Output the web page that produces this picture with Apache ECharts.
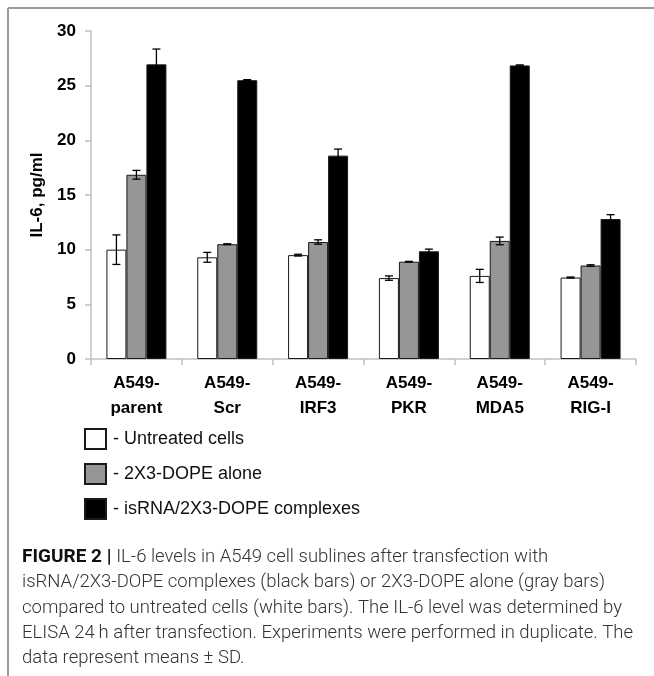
<!DOCTYPE html>
<html>
<head>
<meta charset="utf-8">
<script src="https://cdn.jsdelivr.net/npm/echarts@6/dist/echarts.min.js"></script>
<style>html,body{margin:0;padding:0;background:#fff;}#c{width:654px;height:676px;}</style>
</head>
<body>
<div id="c"></div>
<script>
var categories = ['A549-\nparent', 'A549-\nScr', 'A549-\nIRF3', 'A549-\nPKR', 'A549-\nMDA5', 'A549-\nRIG-I'];
var seriesNames = ['Untreated cells', '2X3-DOPE alone', 'isRNA/2X3-DOPE complexes'];
var untreated = [10.0, 9.3, 9.5, 7.4, 7.6, 7.45];
var dopeAlone = [16.85, 10.5, 10.7, 8.9, 10.8, 8.55];
var complexes = [26.95, 25.5, 18.6, 9.85, 26.85, 12.8];
var untreatedSD = [1.35, 0.45, 0.08, 0.2, 0.6, 0.05];
var dopeAloneSD = [0.4, 0.04, 0.2, 0.03, 0.35, 0.07];
var complexesSD = [1.4, 0.05, 0.6, 0.2, 0.05, 0.4];
var yTicks = [0, 5, 10, 15, 20, 25, 30];
var captionLines = [
  'isRNA/2X3-DOPE complexes (black bars) or 2X3-DOPE alone (gray bars)',
  'compared to untreated cells (white bars). The IL-6 level was determined by',
  'ELISA 24\u2009h after transfection. Experiments were performed in duplicate. The',
  'data represent means \u00b1 SD.'
];
var captionFirst = ['FIGURE 2 | ', 'IL-6 levels in A549 cell sublines after transfection with'];

var values = [untreated, dopeAlone, complexes];
var sds = [untreatedSD, dopeAloneSD, complexesSD];
var fills = ['#ffffff', '#969696', '#000000'];
var BAR_W = 20;

var chart = echarts.init(document.getElementById('c'));

var series = [];
values.forEach(function (vals, si) {
  series.push({
    name: seriesNames[si],
    type: 'bar',
    data: vals,
    barWidth: BAR_W,
    barGap: '0%',
    itemStyle: { color: fills[si], borderColor: '#1a1a1a', borderWidth: 1 }
  });
});
values.forEach(function (vals, si) {
  var errData = vals.map(function (v, i) { return [i, v - sds[si][i], v + sds[si][i]]; });
  series.push({
    type: 'custom',
    silent: true,
    z: 10,
    data: errData,
    renderItem: function (params, api) {
      var x = api.value(0);
      var lo = api.coord([x, api.value(1)]);
      var hi = api.coord([x, api.value(2)]);
      var off = (si - 1) * BAR_W;
      var cx = lo[0] + off;
      var cap = 4;
      var st = { stroke: '#000', lineWidth: 1.3 };
      return {
        type: 'group',
        children: [
          { type: 'line', shape: { x1: cx, y1: lo[1], x2: cx, y2: hi[1] }, style: st },
          { type: 'line', shape: { x1: cx - cap, y1: lo[1], x2: cx + cap, y2: lo[1] }, style: st },
          { type: 'line', shape: { x1: cx - cap, y1: hi[1], x2: cx + cap, y2: hi[1] }, style: st }
        ]
      };
    }
  });
});

var CAP_FONT = 18.5;
var CAP_TOP = 548;
var CAP_STEP = 25.3;
var graphics = [
  { type: 'line', shape: { x1: 8, y1: 8, x2: 654, y2: 8 }, style: { stroke: '#9a9a9a', lineWidth: 2 } },
  { type: 'line', shape: { x1: 8, y1: 8, x2: 8, y2: 676 }, style: { stroke: '#9a9a9a', lineWidth: 2 } },
  {
    type: 'text', left: 22, top: CAP_TOP,
    style: {
      text: '{b|' + captionFirst[0] + '}{n|' + captionFirst[1] + '}',
      rich: {
        b: { fontFamily: 'Roboto', fontWeight: 'bold', fontSize: CAP_FONT + 0.5, fill: '#111' },
        n: { fontFamily: 'Roboto', fontWeight: 300, fontSize: CAP_FONT, fill: '#333' }
      }
    }
  }
];
captionLines.forEach(function (t, i) {
  graphics.push({
    type: 'text', left: 22, top: CAP_TOP + (i + 1) * CAP_STEP,
    style: { text: t, fontFamily: 'Roboto', fontWeight: 300, fontSize: CAP_FONT, fill: '#333' }
  });
});

chart.setOption({
  animation: false,
  backgroundColor: '#ffffff',
  grid: { left: 91, right: 18, top: 31, bottom: 317, containLabel: false },
  legend: {
    orient: 'vertical',
    left: 84, top: 428,
    padding: 0,
    itemWidth: 21, itemHeight: 20, itemGap: 13,
    icon: 'rect',
    data: seriesNames,
    formatter: function (n) { return '- ' + n; },
    textStyle: { fontFamily: 'Arial, Liberation Sans', fontSize: 18, color: '#111', padding: [0, 0, 0, 2] }
  },
  xAxis: {
    type: 'category',
    data: categories,
    axisLine: { lineStyle: { color: '#c0c0c0', width: 1.5 } },
    axisTick: { show: true, length: 6, lineStyle: { color: '#c0c0c0', width: 1.5 } },
    axisLabel: { fontFamily: 'Arial, Liberation Sans', fontWeight: 'bold', fontSize: 17, color: '#000', lineHeight: 25, margin: 12, interval: 0 }
  },
  yAxis: {
    type: 'value',
    min: yTicks[0], max: yTicks[yTicks.length - 1], interval: 5,
    name: 'IL-6, pg/ml',
    nameLocation: 'middle',
    nameGap: 44,
    nameTextStyle: { fontFamily: 'Arial, Liberation Sans', fontWeight: 'bold', fontSize: 17, color: '#000' },
    axisLine: { show: true, lineStyle: { color: '#c0c0c0', width: 1.5 } },
    axisTick: { show: true, length: 6, lineStyle: { color: '#c0c0c0', width: 1.5 } },
    splitLine: { show: false },
    axisLabel: { fontFamily: 'Arial, Liberation Sans', fontWeight: 'bold', fontSize: 17, color: '#000', margin: 15 }
  },
  series: series,
  graphic: graphics
});
</script>
</body>
</html>
